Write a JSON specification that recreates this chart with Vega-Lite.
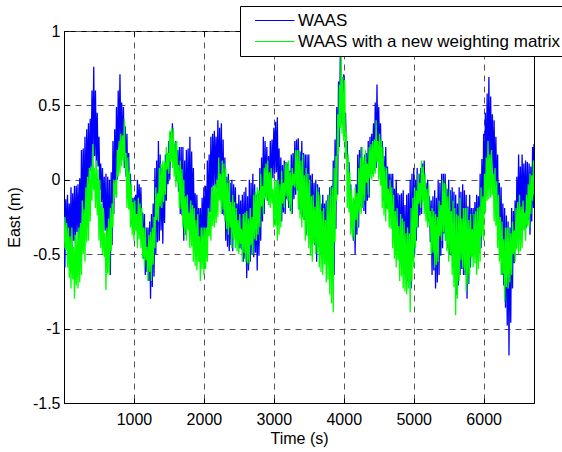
{
"$schema": "https://vega.github.io/schema/vega-lite/v6.json",
"width": 470, "height": 372,
"autosize": {"type": "none"},
"padding": {"left": 64, "top": 31, "right": 28, "bottom": 49},
"background": "white",
"config": {
  "view": {"stroke": "black", "strokeWidth": 1},
  "font": "Liberation Sans",
  "axis": {
    "labelFont": "Liberation Sans", "labelFontSize": 16, "labelColor": "black",
    "titleFont": "Liberation Sans", "titleFontSize": 16, "titleFontWeight": "normal", "titleColor": "black",
    "domainColor": "black", "tickColor": "black", "tickSize": -5, "labelPadding": 9,
    "gridColor": "#555555", "gridDash": [6, 5], "gridOpacity": 1, "gridWidth": 1,
    "labelOverlap": false, "labelFlush": false
  }
},
"data": {"values": [
{"t":0,"waas":-0.15,"wnew":-0.46},{"t":12.5,"waas":-0.59,"wnew":-0.25},{"t":25,"waas":-0.13,"wnew":-0.47},{"t":37.5,"waas":-0.44,"wnew":-0.29},
{"t":50,"waas":-0.10,"wnew":-0.59},{"t":62.5,"waas":-0.45,"wnew":-0.32},{"t":75,"waas":-0.16,"wnew":-0.66},{"t":87.5,"waas":-0.46,"wnew":-0.38},
{"t":100,"waas":-0.05,"wnew":-0.73},{"t":112.5,"waas":-0.46,"wnew":-0.32},{"t":125,"waas":-0.09,"wnew":-0.67},{"t":137.5,"waas":-0.41,"wnew":-0.45},
{"t":150,"waas":-0.04,"wnew":-0.80},{"t":162.5,"waas":-0.44,"wnew":-0.37},{"t":175,"waas":-0.04,"wnew":-0.71},{"t":187.5,"waas":-0.35,"wnew":-0.35},
{"t":200,"waas":-0.03,"wnew":-0.73},{"t":212.5,"waas":-0.41,"wnew":-0.32},{"t":225,"waas":0.01,"wnew":-0.69},{"t":237.5,"waas":-0.37,"wnew":-0.29},
{"t":250,"waas":0.20,"wnew":-0.64},{"t":262.5,"waas":-0.32,"wnew":-0.14},{"t":275,"waas":0.21,"wnew":-0.50},{"t":287.5,"waas":-0.24,"wnew":-0.20},
{"t":300,"waas":0.29,"wnew":-0.55},{"t":312.5,"waas":-0.23,"wnew":-0.05},{"t":325,"waas":0.34,"wnew":-0.42},{"t":337.5,"waas":-0.05,"wnew":0.02},
{"t":350,"waas":0.38,"wnew":-0.41},{"t":362.5,"waas":-0.03,"wnew":0.08},{"t":375,"waas":0.41,"wnew":-0.28},{"t":387.5,"waas":0.06,"wnew":0.09},
{"t":400,"waas":0.60,"wnew":-0.14},{"t":412.5,"waas":0.15,"wnew":0.24},{"t":425,"waas":0.76,"wnew":-0.07},{"t":437.5,"waas":0.16,"wnew":0.08},
{"t":450,"waas":0.60,"wnew":-0.19},{"t":462.5,"waas":0.08,"wnew":0.13},{"t":475,"waas":0.45,"wnew":-0.24},{"t":487.5,"waas":0.09,"wnew":0.07},
{"t":500,"waas":0.29,"wnew":-0.41},{"t":512.5,"waas":-0.07,"wnew":0.00},{"t":525,"waas":0.11,"wnew":-0.46},{"t":537.5,"waas":-0.15,"wnew":-0.16},
{"t":550,"waas":0.08,"wnew":-0.50},{"t":562.5,"waas":-0.23,"wnew":-0.19},{"t":575,"waas":0.02,"wnew":-0.52},{"t":587.5,"waas":-0.34,"wnew":-0.36},
{"t":600,"waas":0.04,"wnew":-0.74},{"t":612.5,"waas":-0.52,"wnew":-0.32},{"t":625,"waas":0.02,"wnew":-0.63},{"t":637.5,"waas":-0.50,"wnew":-0.26},
{"t":650,"waas":0.00,"wnew":-0.64},{"t":662.5,"waas":-0.64,"wnew":-0.19},{"t":675,"waas":0.05,"wnew":-0.48},{"t":687.5,"waas":-0.44,"wnew":-0.16},
{"t":700,"waas":0.26,"wnew":-0.32},{"t":712.5,"waas":-0.23,"wnew":0.00},{"t":725,"waas":0.34,"wnew":-0.12},{"t":737.5,"waas":-0.08,"wnew":0.00},
{"t":750,"waas":0.49,"wnew":-0.12},{"t":762.5,"waas":0.00,"wnew":0.20},{"t":775,"waas":0.60,"wnew":0.02},{"t":787.5,"waas":0.21,"wnew":0.26},
{"t":800,"waas":0.71,"wnew":0.04},{"t":812.5,"waas":0.26,"wnew":0.31},{"t":825,"waas":0.52,"wnew":0.09},{"t":837.5,"waas":0.17,"wnew":0.30},
{"t":850,"waas":0.49,"wnew":0.13},{"t":862.5,"waas":0.08,"wnew":0.41},{"t":875,"waas":0.36,"wnew":0.07},{"t":887.5,"waas":0.02,"wnew":0.18},
{"t":900,"waas":0.31,"wnew":-0.19},{"t":912.5,"waas":-0.12,"wnew":0.15},{"t":925,"waas":0.18,"wnew":-0.20},{"t":937.5,"waas":-0.13,"wnew":0.06},
{"t":950,"waas":0.04,"wnew":-0.32},{"t":962.5,"waas":-0.30,"wnew":-0.03},{"t":975,"waas":-0.12,"wnew":-0.37},{"t":987.5,"waas":-0.31,"wnew":-0.15},
{"t":1000,"waas":-0.12,"wnew":-0.41},{"t":1012.5,"waas":-0.32,"wnew":-0.14},{"t":1025,"waas":-0.10,"wnew":-0.34},{"t":1037.5,"waas":-0.26,"wnew":-0.23},
{"t":1050,"waas":0.00,"wnew":-0.46},{"t":1062.5,"waas":-0.28,"wnew":-0.12},{"t":1075,"waas":-0.03,"wnew":-0.40},{"t":1087.5,"waas":-0.27,"wnew":-0.16},
{"t":1100,"waas":-0.05,"wnew":-0.46},{"t":1112.5,"waas":-0.41,"wnew":-0.19},{"t":1125,"waas":-0.22,"wnew":-0.53},{"t":1137.5,"waas":-0.53,"wnew":-0.32},
{"t":1150,"waas":-0.23,"wnew":-0.59},{"t":1162.5,"waas":-0.64,"wnew":-0.32},{"t":1175,"waas":-0.32,"wnew":-0.54},{"t":1187.5,"waas":-0.62,"wnew":-0.45},
{"t":1200,"waas":-0.32,"wnew":-0.68},{"t":1212.5,"waas":-0.68,"wnew":-0.37},{"t":1225,"waas":-0.28,"wnew":-0.62},{"t":1237.5,"waas":-0.80,"wnew":-0.35},
{"t":1250,"waas":-0.23,"wnew":-0.68},{"t":1262.5,"waas":-0.72,"wnew":-0.32},{"t":1275,"waas":-0.16,"wnew":-0.57},{"t":1287.5,"waas":-0.65,"wnew":-0.25},
{"t":1300,"waas":0.08,"wnew":-0.46},{"t":1312.5,"waas":-0.50,"wnew":-0.05},{"t":1325,"waas":0.13,"wnew":-0.27},{"t":1337.5,"waas":-0.42,"wnew":-0.09},
{"t":1350,"waas":0.26,"wnew":-0.28},{"t":1362.5,"waas":-0.41,"wnew":0.08},{"t":1375,"waas":0.17,"wnew":-0.18},{"t":1387.5,"waas":-0.34,"wnew":0.11},
{"t":1400,"waas":0.08,"wnew":-0.19},{"t":1412.5,"waas":-0.43,"wnew":0.13},{"t":1425,"waas":0.05,"wnew":-0.15},{"t":1437.5,"waas":-0.29,"wnew":0.12},
{"t":1450,"waas":0.17,"wnew":-0.10},{"t":1462.5,"waas":-0.14,"wnew":0.22},{"t":1475,"waas":0.18,"wnew":0.07},{"t":1487.5,"waas":-0.03,"wnew":0.18},
{"t":1500,"waas":0.26,"wnew":0.04},{"t":1512.5,"waas":0.00,"wnew":0.33},{"t":1525,"waas":0.32,"wnew":0.12},{"t":1537.5,"waas":0.15,"wnew":0.34},
{"t":1550,"waas":0.38,"wnew":0.08},{"t":1562.5,"waas":0.13,"wnew":0.35},{"t":1575,"waas":0.24,"wnew":0.02},{"t":1587.5,"waas":0.07,"wnew":0.25},
{"t":1600,"waas":0.26,"wnew":-0.05},{"t":1612.5,"waas":0.00,"wnew":0.26},{"t":1625,"waas":0.20,"wnew":-0.02},{"t":1637.5,"waas":-0.08,"wnew":0.10},
{"t":1650,"waas":0.22,"wnew":-0.19},{"t":1662.5,"waas":-0.23,"wnew":0.13},{"t":1675,"waas":0.22,"wnew":-0.20},{"t":1687.5,"waas":-0.24,"wnew":0.07},
{"t":1700,"waas":0.22,"wnew":-0.32},{"t":1712.5,"waas":-0.41,"wnew":0.00},{"t":1725,"waas":0.13,"wnew":-0.37},{"t":1737.5,"waas":-0.37,"wnew":-0.11},
{"t":1750,"waas":0.20,"wnew":-0.41},{"t":1762.5,"waas":-0.32,"wnew":-0.10},{"t":1775,"waas":0.21,"wnew":-0.34},{"t":1787.5,"waas":-0.28,"wnew":-0.22},
{"t":1800,"waas":0.29,"wnew":-0.46},{"t":1812.5,"waas":-0.32,"wnew":-0.14},{"t":1825,"waas":0.19,"wnew":-0.45},{"t":1837.5,"waas":-0.24,"wnew":-0.17},
{"t":1850,"waas":0.08,"wnew":-0.55},{"t":1862.5,"waas":-0.32,"wnew":-0.19},{"t":1875,"waas":-0.09,"wnew":-0.58},{"t":1887.5,"waas":-0.39,"wnew":-0.27},
{"t":1900,"waas":-0.10,"wnew":-0.61},{"t":1912.5,"waas":-0.46,"wnew":-0.23},{"t":1925,"waas":-0.19,"wnew":-0.55},{"t":1937.5,"waas":-0.44,"wnew":-0.38},
{"t":1950,"waas":-0.19,"wnew":-0.68},{"t":1962.5,"waas":-0.50,"wnew":-0.32},{"t":1975,"waas":-0.12,"wnew":-0.60},{"t":1987.5,"waas":-0.40,"wnew":-0.32},
{"t":2000,"waas":-0.05,"wnew":-0.64},{"t":2012.5,"waas":-0.46,"wnew":-0.32},{"t":2025,"waas":-0.04,"wnew":-0.60},{"t":2037.5,"waas":-0.39,"wnew":-0.32},
{"t":2050,"waas":0.13,"wnew":-0.55},{"t":2062.5,"waas":-0.32,"wnew":-0.19},{"t":2075,"waas":0.17,"wnew":-0.38},{"t":2087.5,"waas":-0.22,"wnew":-0.22},
{"t":2100,"waas":0.29,"wnew":-0.41},{"t":2112.5,"waas":-0.19,"wnew":-0.05},{"t":2125,"waas":0.31,"wnew":-0.31},{"t":2137.5,"waas":-0.04,"wnew":-0.04},
{"t":2150,"waas":0.33,"wnew":-0.32},{"t":2162.5,"waas":-0.05,"wnew":-0.03},{"t":2175,"waas":0.29,"wnew":-0.29},{"t":2187.5,"waas":-0.06,"wnew":0.00},
{"t":2200,"waas":0.40,"wnew":-0.25},{"t":2212.5,"waas":-0.07,"wnew":0.15},{"t":2225,"waas":0.35,"wnew":-0.14},{"t":2237.5,"waas":-0.11,"wnew":0.04},
{"t":2250,"waas":0.38,"wnew":-0.23},{"t":2262.5,"waas":-0.23,"wnew":0.13},{"t":2275,"waas":0.27,"wnew":-0.20},{"t":2287.5,"waas":-0.24,"wnew":0.11},
{"t":2300,"waas":0.15,"wnew":-0.28},{"t":2312.5,"waas":-0.41,"wnew":0.08},{"t":2325,"waas":0.02,"wnew":-0.33},{"t":2337.5,"waas":-0.45,"wnew":-0.02},
{"t":2350,"waas":0.04,"wnew":-0.37},{"t":2362.5,"waas":-0.48,"wnew":0.00},{"t":2375,"waas":-0.02,"wnew":-0.32},{"t":2387.5,"waas":-0.44,"wnew":-0.15},
{"t":2400,"waas":0.00,"wnew":-0.46},{"t":2412.5,"waas":-0.48,"wnew":-0.10},{"t":2425,"waas":-0.03,"wnew":-0.40},{"t":2437.5,"waas":-0.35,"wnew":-0.15},
{"t":2450,"waas":-0.05,"wnew":-0.46},{"t":2462.5,"waas":-0.37,"wnew":-0.19},{"t":2475,"waas":-0.16,"wnew":-0.48},{"t":2487.5,"waas":-0.42,"wnew":-0.27},
{"t":2500,"waas":-0.10,"wnew":-0.50},{"t":2512.5,"waas":-0.46,"wnew":-0.23},{"t":2525,"waas":-0.14,"wnew":-0.43},{"t":2537.5,"waas":-0.47,"wnew":-0.33},
{"t":2550,"waas":-0.10,"wnew":-0.55},{"t":2562.5,"waas":-0.55,"wnew":-0.23},{"t":2575,"waas":-0.08,"wnew":-0.49},{"t":2587.5,"waas":-0.53,"wnew":-0.22},
{"t":2600,"waas":-0.05,"wnew":-0.55},{"t":2612.5,"waas":-0.66,"wnew":-0.21},{"t":2625,"waas":-0.11,"wnew":-0.56},{"t":2637.5,"waas":-0.61,"wnew":-0.26},
{"t":2650,"waas":0.00,"wnew":-0.57},{"t":2662.5,"waas":-0.55,"wnew":-0.19},{"t":2675,"waas":-0.02,"wnew":-0.44},{"t":2687.5,"waas":-0.50,"wnew":-0.25},
{"t":2700,"waas":0.04,"wnew":-0.50},{"t":2712.5,"waas":-0.52,"wnew":-0.10},{"t":2725,"waas":-0.03,"wnew":-0.40},{"t":2737.5,"waas":-0.49,"wnew":-0.08},
{"t":2750,"waas":-0.10,"wnew":-0.41},{"t":2762.5,"waas":-0.61,"wnew":-0.05},{"t":2775,"waas":-0.09,"wnew":-0.37},{"t":2787.5,"waas":-0.51,"wnew":-0.07},
{"t":2800,"waas":0.08,"wnew":-0.32},{"t":2812.5,"waas":-0.41,"wnew":0.04},{"t":2825,"waas":0.15,"wnew":-0.18},{"t":2837.5,"waas":-0.28,"wnew":-0.04},
{"t":2850,"waas":0.29,"wnew":-0.23},{"t":2862.5,"waas":-0.23,"wnew":0.08},{"t":2875,"waas":0.26,"wnew":-0.13},{"t":2887.5,"waas":-0.11,"wnew":0.11},
{"t":2900,"waas":0.22,"wnew":-0.14},{"t":2912.5,"waas":-0.14,"wnew":0.13},{"t":2925,"waas":0.16,"wnew":-0.17},{"t":2937.5,"waas":-0.12,"wnew":0.05},
{"t":2950,"waas":0.26,"wnew":-0.19},{"t":2962.5,"waas":-0.10,"wnew":0.08},{"t":2975,"waas":0.27,"wnew":-0.16},{"t":2987.5,"waas":0.01,"wnew":-0.06},
{"t":3000,"waas":0.35,"wnew":-0.32},{"t":3012.5,"waas":0.04,"wnew":0.00},{"t":3025,"waas":0.39,"wnew":-0.31},{"t":3037.5,"waas":0.05,"wnew":0.00},
{"t":3050,"waas":0.42,"wnew":-0.41},{"t":3062.5,"waas":-0.10,"wnew":0.00},{"t":3075,"waas":0.21,"wnew":-0.37},{"t":3087.5,"waas":-0.19,"wnew":-0.03},
{"t":3100,"waas":0.15,"wnew":-0.32},{"t":3112.5,"waas":-0.28,"wnew":0.06},{"t":3125,"waas":0.10,"wnew":-0.16},{"t":3137.5,"waas":-0.22,"wnew":-0.02},
{"t":3150,"waas":0.13,"wnew":-0.19},{"t":3162.5,"waas":-0.23,"wnew":0.11},{"t":3175,"waas":0.12,"wnew":-0.11},{"t":3187.5,"waas":-0.13,"wnew":0.12},
{"t":3200,"waas":0.11,"wnew":-0.14},{"t":3212.5,"waas":-0.19,"wnew":0.13},{"t":3225,"waas":0.06,"wnew":-0.19},{"t":3237.5,"waas":-0.21,"wnew":0.05},
{"t":3250,"waas":0.17,"wnew":-0.23},{"t":3262.5,"waas":-0.23,"wnew":0.08},{"t":3275,"waas":0.18,"wnew":-0.04},{"t":3287.5,"waas":-0.13,"wnew":0.04},
{"t":3300,"waas":0.26,"wnew":-0.05},{"t":3312.5,"waas":-0.10,"wnew":0.20},{"t":3325,"waas":0.27,"wnew":-0.07},{"t":3337.5,"waas":-0.07,"wnew":0.20},
{"t":3350,"waas":0.28,"wnew":-0.20},{"t":3362.5,"waas":-0.20,"wnew":0.20},{"t":3375,"waas":0.19,"wnew":-0.26},{"t":3387.5,"waas":-0.23,"wnew":0.13},
{"t":3400,"waas":0.26,"wnew":-0.32},{"t":3412.5,"waas":-0.25,"wnew":0.17},{"t":3425,"waas":0.18,"wnew":-0.27},{"t":3437.5,"waas":-0.27,"wnew":0.03},
{"t":3450,"waas":0.17,"wnew":-0.41},{"t":3462.5,"waas":-0.37,"wnew":0.08},{"t":3475,"waas":0.17,"wnew":-0.38},{"t":3487.5,"waas":-0.27,"wnew":0.04},
{"t":3500,"waas":0.17,"wnew":-0.46},{"t":3512.5,"waas":-0.32,"wnew":0.00},{"t":3525,"waas":0.03,"wnew":-0.51},{"t":3537.5,"waas":-0.37,"wnew":-0.11},
{"t":3550,"waas":0.04,"wnew":-0.55},{"t":3562.5,"waas":-0.41,"wnew":-0.10},{"t":3575,"waas":-0.02,"wnew":-0.43},{"t":3587.5,"waas":-0.44,"wnew":-0.18},
{"t":3600,"waas":0.00,"wnew":-0.50},{"t":3612.5,"waas":-0.55,"wnew":-0.05},{"t":3625,"waas":-0.03,"wnew":-0.49},{"t":3637.5,"waas":-0.45,"wnew":-0.08},
{"t":3650,"waas":-0.05,"wnew":-0.59},{"t":3662.5,"waas":-0.50,"wnew":-0.10},{"t":3675,"waas":-0.16,"wnew":-0.62},{"t":3687.5,"waas":-0.48,"wnew":-0.21},
{"t":3700,"waas":-0.10,"wnew":-0.64},{"t":3712.5,"waas":-0.46,"wnew":-0.19},{"t":3725,"waas":-0.16,"wnew":-0.57},{"t":3737.5,"waas":-0.42,"wnew":-0.27},
{"t":3750,"waas":-0.14,"wnew":-0.69},{"t":3762.5,"waas":-0.46,"wnew":-0.14},{"t":3775,"waas":-0.10,"wnew":-0.67},{"t":3787.5,"waas":-0.43,"wnew":-0.10},
{"t":3800,"waas":-0.05,"wnew":-0.77},{"t":3812.5,"waas":-0.55,"wnew":-0.05},{"t":3825,"waas":-0.04,"wnew":-0.83},{"t":3837.5,"waas":-0.60,"wnew":-0.05},
{"t":3850,"waas":0.13,"wnew":-0.89},{"t":3862.5,"waas":-0.64,"wnew":0.08},{"t":3875,"waas":0.27,"wnew":-0.42},{"t":3887.5,"waas":-0.33,"wnew":0.16},
{"t":3900,"waas":0.49,"wnew":-0.14},{"t":3912.5,"waas":-0.10,"wnew":0.44},{"t":3925,"waas":0.66,"wnew":0.17},{"t":3937.5,"waas":0.22,"wnew":0.64},
{"t":3950,"waas":0.83,"wnew":0.35},{"t":3962.5,"waas":0.38,"wnew":0.87},{"t":3975,"waas":0.69,"wnew":0.31},{"t":3987.5,"waas":0.37,"wnew":0.69},
{"t":4000,"waas":0.71,"wnew":0.26},{"t":4012.5,"waas":0.35,"wnew":0.67},{"t":4025,"waas":0.45,"wnew":0.14},{"t":4037.5,"waas":0.17,"wnew":0.32},
{"t":4050,"waas":0.26,"wnew":-0.19},{"t":4062.5,"waas":-0.10,"wnew":0.17},{"t":4075,"waas":0.12,"wnew":-0.22},{"t":4087.5,"waas":-0.13,"wnew":0.05},
{"t":4100,"waas":-0.03,"wnew":-0.37},{"t":4112.5,"waas":-0.32,"wnew":-0.07},{"t":4125,"waas":-0.17,"wnew":-0.39},{"t":4137.5,"waas":-0.41,"wnew":-0.12},
{"t":4150,"waas":-0.14,"wnew":-0.41},{"t":4162.5,"waas":-0.50,"wnew":-0.05},{"t":4175,"waas":-0.03,"wnew":-0.27},{"t":4187.5,"waas":-0.37,"wnew":-0.09},
{"t":4200,"waas":0.17,"wnew":-0.32},{"t":4212.5,"waas":-0.32,"wnew":0.08},{"t":4225,"waas":0.20,"wnew":-0.22},{"t":4237.5,"waas":-0.18,"wnew":0.15},
{"t":4250,"waas":0.22,"wnew":-0.23},{"t":4262.5,"waas":-0.19,"wnew":0.22},{"t":4275,"waas":0.12,"wnew":-0.19},{"t":4287.5,"waas":-0.21,"wnew":0.15},
{"t":4300,"waas":0.17,"wnew":-0.14},{"t":4312.5,"waas":-0.23,"wnew":0.20},{"t":4325,"waas":0.18,"wnew":-0.02},{"t":4337.5,"waas":-0.14,"wnew":0.11},
{"t":4350,"waas":0.26,"wnew":-0.10},{"t":4362.5,"waas":-0.12,"wnew":0.22},{"t":4375,"waas":0.29,"wnew":0.01},{"t":4387.5,"waas":0.04,"wnew":0.24},
{"t":4400,"waas":0.31,"wnew":0.00},{"t":4412.5,"waas":0.04,"wnew":0.26},{"t":4425,"waas":0.38,"wnew":0.02},{"t":4437.5,"waas":0.06,"wnew":0.27},
{"t":4450,"waas":0.52,"wnew":0.04},{"t":4462.5,"waas":0.08,"wnew":0.40},{"t":4475,"waas":0.64,"wnew":0.12},{"t":4487.5,"waas":0.16,"wnew":0.26},
{"t":4500,"waas":0.49,"wnew":0.00},{"t":4512.5,"waas":0.15,"wnew":0.31},{"t":4525,"waas":0.38,"wnew":-0.04},{"t":4537.5,"waas":0.09,"wnew":0.27},
{"t":4550,"waas":0.26,"wnew":-0.19},{"t":4562.5,"waas":-0.14,"wnew":0.22},{"t":4575,"waas":0.16,"wnew":-0.24},{"t":4587.5,"waas":-0.17,"wnew":0.09},
{"t":4600,"waas":0.22,"wnew":-0.28},{"t":4612.5,"waas":-0.19,"wnew":0.08},{"t":4625,"waas":0.09,"wnew":-0.20},{"t":4637.5,"waas":-0.15,"wnew":-0.06},
{"t":4650,"waas":0.04,"wnew":-0.32},{"t":4662.5,"waas":-0.19,"wnew":0.00},{"t":4675,"waas":0.04,"wnew":-0.33},{"t":4687.5,"waas":-0.18,"wnew":-0.05},
{"t":4700,"waas":0.04,"wnew":-0.46},{"t":4712.5,"waas":-0.32,"wnew":-0.10},{"t":4725,"waas":-0.06,"wnew":-0.53},{"t":4737.5,"waas":-0.37,"wnew":-0.21},
{"t":4750,"waas":0.00,"wnew":-0.59},{"t":4762.5,"waas":-0.41,"wnew":-0.19},{"t":4775,"waas":-0.09,"wnew":-0.54},{"t":4787.5,"waas":-0.44,"wnew":-0.31},
{"t":4800,"waas":-0.10,"wnew":-0.68},{"t":4812.5,"waas":-0.55,"wnew":-0.23},{"t":4825,"waas":-0.09,"wnew":-0.65},{"t":4837.5,"waas":-0.52,"wnew":-0.26},
{"t":4850,"waas":-0.07,"wnew":-0.73},{"t":4862.5,"waas":-0.64,"wnew":-0.28},{"t":4875,"waas":-0.17,"wnew":-0.75},{"t":4887.5,"waas":-0.66,"wnew":-0.36},
{"t":4900,"waas":-0.10,"wnew":-0.77},{"t":4912.5,"waas":-0.68,"wnew":-0.32},{"t":4925,"waas":-0.09,"wnew":-0.73},{"t":4937.5,"waas":-0.67,"wnew":-0.36},
{"t":4950,"waas":0.00,"wnew":-0.89},{"t":4962.5,"waas":-0.73,"wnew":-0.19},{"t":4975,"waas":0.04,"wnew":-0.68},{"t":4987.5,"waas":-0.54,"wnew":-0.12},
{"t":5000,"waas":0.08,"wnew":-0.59},{"t":5012.5,"waas":-0.50,"wnew":-0.05},{"t":5025,"waas":0.00,"wnew":-0.46},{"t":5037.5,"waas":-0.41,"wnew":-0.07},
{"t":5050,"waas":0.08,"wnew":-0.32},{"t":5062.5,"waas":-0.32,"wnew":0.04},{"t":5075,"waas":0.04,"wnew":-0.16},{"t":5087.5,"waas":-0.24,"wnew":-0.02},
{"t":5100,"waas":0.08,"wnew":-0.19},{"t":5112.5,"waas":-0.23,"wnew":0.13},{"t":5125,"waas":0.11,"wnew":-0.15},{"t":5137.5,"waas":-0.13,"wnew":0.09},
{"t":5150,"waas":0.13,"wnew":-0.23},{"t":5162.5,"waas":-0.19,"wnew":0.04},{"t":5175,"waas":-0.02,"wnew":-0.28},{"t":5187.5,"waas":-0.24,"wnew":-0.06},
{"t":5200,"waas":0.00,"wnew":-0.32},{"t":5212.5,"waas":-0.28,"wnew":-0.03},{"t":5225,"waas":-0.11,"wnew":-0.31},{"t":5237.5,"waas":-0.42,"wnew":-0.21},
{"t":5250,"waas":-0.14,"wnew":-0.50},{"t":5262.5,"waas":-0.64,"wnew":-0.19},{"t":5275,"waas":-0.11,"wnew":-0.49},{"t":5287.5,"waas":-0.61,"wnew":-0.21},
{"t":5300,"waas":-0.07,"wnew":-0.59},{"t":5312.5,"waas":-0.73,"wnew":-0.23},{"t":5325,"waas":-0.12,"wnew":-0.57},{"t":5337.5,"waas":-0.69,"wnew":-0.25},
{"t":5350,"waas":0.00,"wnew":-0.55},{"t":5362.5,"waas":-0.64,"wnew":-0.14},{"t":5375,"waas":-0.02,"wnew":-0.38},{"t":5387.5,"waas":-0.51,"wnew":-0.17},
{"t":5400,"waas":0.04,"wnew":-0.41},{"t":5412.5,"waas":-0.46,"wnew":0.00},{"t":5425,"waas":0.04,"wnew":-0.35},{"t":5437.5,"waas":-0.36,"wnew":-0.02},
{"t":5450,"waas":0.04,"wnew":-0.41},{"t":5462.5,"waas":-0.41,"wnew":-0.03},{"t":5475,"waas":-0.06,"wnew":-0.48},{"t":5487.5,"waas":-0.46,"wnew":-0.11},
{"t":5500,"waas":0.00,"wnew":-0.55},{"t":5512.5,"waas":-0.50,"wnew":-0.07},{"t":5525,"waas":-0.07,"wnew":-0.50},{"t":5537.5,"waas":-0.51,"wnew":-0.21},
{"t":5550,"waas":-0.05,"wnew":-0.64},{"t":5562.5,"waas":-0.59,"wnew":-0.14},{"t":5575,"waas":-0.08,"wnew":-0.72},{"t":5587.5,"waas":-0.60,"wnew":-0.19},
{"t":5600,"waas":-0.10,"wnew":-0.91},{"t":5612.5,"waas":-0.77,"wnew":-0.23},{"t":5625,"waas":-0.16,"wnew":-0.80},{"t":5637.5,"waas":-0.71,"wnew":-0.24},
{"t":5650,"waas":-0.05,"wnew":-0.68},{"t":5662.5,"waas":-0.64,"wnew":-0.12},{"t":5675,"waas":-0.08,"wnew":-0.54},{"t":5687.5,"waas":-0.60,"wnew":-0.26},
{"t":5700,"waas":-0.03,"wnew":-0.59},{"t":5712.5,"waas":-0.64,"wnew":-0.19},{"t":5725,"waas":-0.07,"wnew":-0.61},{"t":5737.5,"waas":-0.64,"wnew":-0.19},
{"t":5750,"waas":-0.10,"wnew":-0.75},{"t":5762.5,"waas":-0.80,"wnew":-0.19},{"t":5775,"waas":-0.18,"wnew":-0.70},{"t":5787.5,"waas":-0.70,"wnew":-0.27},
{"t":5800,"waas":-0.10,"wnew":-0.64},{"t":5812.5,"waas":-0.59,"wnew":-0.23},{"t":5825,"waas":-0.19,"wnew":-0.52},{"t":5837.5,"waas":-0.51,"wnew":-0.33},
{"t":5850,"waas":-0.19,"wnew":-0.59},{"t":5862.5,"waas":-0.50,"wnew":-0.23},{"t":5875,"waas":-0.15,"wnew":-0.56},{"t":5887.5,"waas":-0.43,"wnew":-0.21},
{"t":5900,"waas":-0.10,"wnew":-0.64},{"t":5912.5,"waas":-0.52,"wnew":-0.19},{"t":5925,"waas":-0.11,"wnew":-0.60},{"t":5937.5,"waas":-0.49,"wnew":-0.18},
{"t":5950,"waas":0.04,"wnew":-0.55},{"t":5962.5,"waas":-0.46,"wnew":-0.05},{"t":5975,"waas":0.14,"wnew":-0.38},{"t":5987.5,"waas":-0.31,"wnew":-0.11},
{"t":6000,"waas":0.31,"wnew":-0.41},{"t":6012.5,"waas":-0.23,"wnew":0.04},{"t":6025,"waas":0.45,"wnew":-0.22},{"t":6037.5,"waas":-0.02,"wnew":0.15},
{"t":6050,"waas":0.58,"wnew":-0.14},{"t":6062.5,"waas":0.04,"wnew":0.26},{"t":6075,"waas":0.69,"wnew":-0.13},{"t":6087.5,"waas":0.06,"wnew":0.17},
{"t":6100,"waas":0.56,"wnew":-0.12},{"t":6112.5,"waas":0.08,"wnew":0.20},{"t":6125,"waas":0.44,"wnew":-0.10},{"t":6137.5,"waas":0.03,"wnew":0.04},
{"t":6150,"waas":0.40,"wnew":-0.28},{"t":6162.5,"waas":-0.10,"wnew":0.08},{"t":6175,"waas":0.29,"wnew":-0.31},{"t":6187.5,"waas":-0.16,"wnew":-0.01},
{"t":6200,"waas":0.17,"wnew":-0.46},{"t":6212.5,"waas":-0.37,"wnew":-0.10},{"t":6225,"waas":-0.02,"wnew":-0.55},{"t":6237.5,"waas":-0.51,"wnew":-0.25},
{"t":6250,"waas":-0.05,"wnew":-0.64},{"t":6262.5,"waas":-0.64,"wnew":-0.28},{"t":6275,"waas":-0.16,"wnew":-0.63},{"t":6287.5,"waas":-0.71,"wnew":-0.40},
{"t":6300,"waas":-0.19,"wnew":-0.82},{"t":6312.5,"waas":-0.86,"wnew":-0.32},{"t":6325,"waas":-0.24,"wnew":-0.72},{"t":6337.5,"waas":-0.98,"wnew":-0.32},
{"t":6350,"waas":-0.28,"wnew":-0.73},{"t":6362.5,"waas":-1.18,"wnew":-0.32},{"t":6375,"waas":-0.32,"wnew":-0.69},{"t":6387.5,"waas":-0.96,"wnew":-0.36},
{"t":6400,"waas":-0.19,"wnew":-0.64},{"t":6412.5,"waas":-0.73,"wnew":-0.28},{"t":6425,"waas":-0.21,"wnew":-0.50},{"t":6437.5,"waas":-0.56,"wnew":-0.34},
{"t":6450,"waas":-0.14,"wnew":-0.55},{"t":6462.5,"waas":-0.46,"wnew":-0.19},{"t":6475,"waas":0.02,"wnew":-0.47},{"t":6487.5,"waas":-0.31,"wnew":-0.15},
{"t":6500,"waas":0.17,"wnew":-0.50},{"t":6512.5,"waas":-0.32,"wnew":-0.10},{"t":6525,"waas":0.09,"wnew":-0.48},{"t":6537.5,"waas":-0.28,"wnew":-0.18},
{"t":6550,"waas":0.17,"wnew":-0.46},{"t":6562.5,"waas":-0.23,"wnew":-0.14},{"t":6575,"waas":0.11,"wnew":-0.34},{"t":6587.5,"waas":-0.24,"wnew":-0.22},
{"t":6600,"waas":0.13,"wnew":-0.41},{"t":6612.5,"waas":-0.32,"wnew":-0.10},{"t":6625,"waas":0.12,"wnew":-0.31},{"t":6637.5,"waas":-0.27,"wnew":-0.03},
{"t":6650,"waas":0.11,"wnew":-0.32},{"t":6662.5,"waas":-0.37,"wnew":0.04},{"t":6675,"waas":0.09,"wnew":-0.23},{"t":6687.5,"waas":-0.28,"wnew":0.03},
{"t":6700,"waas":0.22,"wnew":-0.14},{"t":6712.5,"waas":-0.19,"wnew":0.13},{"t":6720,"waas":0.24,"wnew":-0.10}
]},
"layer": [
  {
    "transform": [{"fold": ["waas", "wnew"], "as": ["series", "east"]}],
    "mark": {"type": "line", "strokeWidth": 1.3, "clip": true},
    "encoding": {
      "x": {"field": "t", "type": "quantitative",
        "scale": {"domain": [0, 6720], "nice": false, "zero": false},
        "axis": {"title": "Time (s)", "values": [0, 1000, 2000, 3000, 4000, 5000, 6000], "labelExpr": "datum.value == 0 ? '' : toString(datum.value)", "labelPadding": 13, "titlePadding": 3}},
      "y": {"field": "east", "type": "quantitative",
        "scale": {"domain": [-1.5, 1], "nice": false, "zero": false},
        "axis": {"title": "East (m)", "values": [-1.5, -1, -0.5, 0, 0.5, 1], "labelExpr": "toString(datum.value)", "titlePadding": 10}},
      "color": {"field": "series", "type": "nominal",
        "scale": {"domain": ["waas", "wnew"], "range": ["#0000ff", "#00ff00"]},
        "legend": {
          "title": null, "orient": "none", "legendX": 176, "legendY": -25, "direction": "vertical",
          "symbolType": "M0.1,0H8.0", "symbolSize": 100, "symbolStrokeWidth": 1,
          "labelFont": "Liberation Sans", "labelFontSize": 17, "labelColor": "black", "labelLimit": 0,
          "labelExpr": "datum.label == 'waas' ? 'WAAS' : 'WAAS with a new weighting matrix'",
          "labelOffset": 35, "padding": 6, "rowPadding": 3,
          "strokeColor": "black", "fillColor": "white", "cornerRadius": 0
        }}
    }
  },
  {
    "mark": {"type": "point", "opacity": 0},
    "encoding": {
      "x": {"field": "t", "type": "quantitative",
        "scale": {"domain": [0, 6720], "nice": false, "zero": false},
        "axis": {"orient": "top", "title": null, "labels": false, "grid": false, "domain": false, "values": [1000, 2000, 3000, 4000, 5000, 6000]}},
      "y": {"field": "waas", "type": "quantitative",
        "scale": {"domain": [-1.5, 1], "nice": false, "zero": false},
        "axis": {"orient": "right", "title": null, "labels": false, "grid": false, "domain": false, "values": [-1, -0.5, 0, 0.5]}}
    }
  }
],
"resolve": {"axis": {"x": "independent", "y": "independent"}}
}
